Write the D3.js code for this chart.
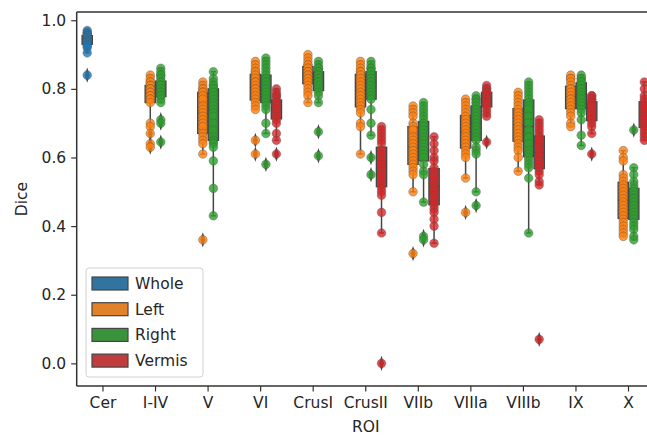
<!DOCTYPE html>
<html><head><meta charset="utf-8">
<script src="https://cdn.jsdelivr.net/npm/d3@7"></script>
<style>body{margin:0;background:#fff;overflow:hidden}svg{display:block}text{font-family:"DejaVu Sans",sans-serif;fill:#262626}</style>
</head><body><svg id="c" width="647" height="437"></svg>
<script>
const categories = ["Cer","I-IV","V","VI","CrusI","CrusII","VIIb","VIIIa","VIIIb","IX","X"];
const hues = ["Whole","Left","Right","Vermis"];
const yTicks = [0.0,0.2,0.4,0.6,0.8,1.0];
const boxColors = ["#3274a1","#e1812c","#3a923a","#c03d3e"];
const pointColors = ["#1f77b4","#ff7f0e","#2ca02c","#d62728"];

const whole = [
  [0.97,0.965,0.96,0.96,0.955,0.955,0.95,0.95,0.945,0.94,0.94,0.935,0.93,0.925,0.92,0.905,0.84],
  null,null,null,null,null,null,null,null,null,null
];
const left = [
  null,
  [0.84,0.83,0.82,0.82,0.81,0.81,0.80,0.80,0.80,0.79,0.79,0.78,0.78,0.77,0.77,0.76,0.70,0.69,0.67,0.64,0.63],
  [0.82,0.81,0.80,0.80,0.79,0.79,0.78,0.77,0.75,0.74,0.73,0.72,0.71,0.70,0.69,0.67,0.66,0.65,0.64,0.61,0.36],
  [0.88,0.87,0.86,0.85,0.85,0.84,0.83,0.82,0.82,0.81,0.80,0.80,0.79,0.78,0.77,0.76,0.75,0.74,0.65,0.61],
  [0.90,0.89,0.88,0.87,0.87,0.86,0.86,0.85,0.85,0.84,0.84,0.83,0.83,0.82,0.81,0.80,0.79,0.78,0.76],
  [0.88,0.87,0.86,0.85,0.85,0.84,0.83,0.82,0.81,0.80,0.79,0.78,0.77,0.76,0.75,0.74,0.73,0.70,0.69,0.61],
  [0.75,0.74,0.73,0.72,0.70,0.69,0.68,0.66,0.65,0.64,0.63,0.62,0.61,0.60,0.59,0.58,0.57,0.56,0.55,0.50,0.32],
  [0.77,0.76,0.75,0.74,0.73,0.72,0.71,0.70,0.69,0.68,0.67,0.66,0.65,0.64,0.63,0.62,0.61,0.60,0.54,0.44],
  [0.79,0.78,0.77,0.76,0.75,0.74,0.73,0.72,0.71,0.70,0.69,0.68,0.67,0.66,0.65,0.64,0.63,0.62,0.60,0.56],
  [0.84,0.83,0.83,0.82,0.81,0.80,0.80,0.79,0.78,0.77,0.77,0.76,0.75,0.74,0.73,0.72,0.70,0.69],
  [0.62,0.60,0.59,0.55,0.54,0.53,0.52,0.51,0.50,0.49,0.48,0.47,0.46,0.45,0.44,0.43,0.42,0.41,0.40,0.39,0.38,0.37]
];
const right = [
  null,
  [0.86,0.85,0.84,0.84,0.83,0.82,0.82,0.81,0.81,0.80,0.80,0.79,0.79,0.78,0.78,0.77,0.76,0.71,0.70,0.645],
  [0.85,0.83,0.82,0.81,0.81,0.80,0.80,0.79,0.78,0.77,0.76,0.75,0.74,0.73,0.72,0.70,0.68,0.66,0.65,0.645,0.64,0.63,0.59,0.51,0.43],
  [0.89,0.88,0.87,0.86,0.85,0.84,0.83,0.82,0.82,0.81,0.80,0.80,0.79,0.78,0.77,0.76,0.75,0.74,0.70,0.67,0.58],
  [0.88,0.87,0.86,0.86,0.85,0.85,0.84,0.84,0.83,0.83,0.82,0.82,0.81,0.80,0.79,0.78,0.76,0.675,0.605],
  [0.88,0.87,0.86,0.86,0.85,0.85,0.84,0.83,0.83,0.82,0.82,0.81,0.80,0.79,0.78,0.77,0.74,0.70,0.665,0.60,0.55],
  [0.76,0.75,0.74,0.73,0.72,0.71,0.70,0.69,0.68,0.67,0.66,0.65,0.64,0.63,0.62,0.61,0.60,0.58,0.56,0.55,0.47,0.37,0.36],
  [0.78,0.77,0.77,0.76,0.76,0.75,0.74,0.73,0.72,0.71,0.70,0.69,0.68,0.67,0.66,0.65,0.63,0.62,0.61,0.50,0.46],
  [0.82,0.81,0.80,0.79,0.78,0.77,0.76,0.75,0.74,0.72,0.70,0.68,0.66,0.64,0.62,0.61,0.60,0.59,0.58,0.57,0.54,0.38],
  [0.84,0.83,0.83,0.82,0.82,0.81,0.80,0.80,0.79,0.78,0.77,0.76,0.75,0.74,0.73,0.71,0.665,0.635],
  [0.68,0.57,0.55,0.53,0.52,0.51,0.50,0.49,0.48,0.48,0.47,0.46,0.45,0.44,0.43,0.42,0.41,0.40,0.39,0.37,0.36]
];
const vermis = [
  null,null,null,
  [0.80,0.79,0.78,0.78,0.77,0.76,0.76,0.75,0.75,0.74,0.74,0.73,0.72,0.71,0.70,0.67,0.65,0.61],
  null,
  [0.69,0.68,0.67,0.66,0.65,0.64,0.62,0.61,0.60,0.59,0.58,0.57,0.56,0.55,0.54,0.53,0.52,0.51,0.50,0.49,0.44,0.38,0.00],
  [0.66,0.64,0.62,0.60,0.59,0.57,0.56,0.55,0.54,0.53,0.52,0.51,0.50,0.49,0.48,0.47,0.46,0.45,0.44,0.42,0.40,0.35],
  [0.81,0.80,0.80,0.79,0.79,0.78,0.78,0.77,0.77,0.76,0.76,0.75,0.74,0.73,0.72,0.645],
  [0.71,0.70,0.69,0.68,0.67,0.66,0.65,0.64,0.63,0.62,0.61,0.60,0.59,0.58,0.57,0.56,0.55,0.53,0.52,0.07],
  [0.78,0.78,0.77,0.77,0.76,0.76,0.75,0.75,0.74,0.73,0.72,0.71,0.70,0.69,0.67,0.61],
  [0.82,0.80,0.78,0.77,0.76,0.75,0.74,0.73,0.72,0.71,0.70,0.69,0.68,0.67,0.66,0.65]
];
const seriesByHue = [whole, left, right, vermis];

const svg = d3.select("#c");
const M = {left: 76.7, right: 654.8, top: 12, bottom: 386};
const x = d3.scaleBand().domain(categories).range([M.left, M.right]).padding(0);
const xh = d3.scaleBand().domain(hues).range([-0.4, 0.4]);
const y = d3.scaleLinear().domain([-0.066, 1.024]).range([M.bottom, M.top]);
const gray = "#454545";
const bw = x.bandwidth();
const hueW = xh.bandwidth() * bw;
const boxW = hueW * 0.98;

function cx(ci, hi) { return x(categories[ci]) + bw / 2 + (xh(hues[hi]) + xh.bandwidth() / 2) * bw; }

// boxes
const gBox = svg.append("g");
const groups = [];
seriesByHue.forEach((ser, hi) => ser.forEach((vals, ci) => { if (vals) groups.push({hi, ci, vals}); }));
groups.forEach(g => {
  const s = g.vals.slice().sort(d3.ascending);
  const q1 = d3.quantile(s, 0.25), med = d3.quantile(s, 0.5), q3 = d3.quantile(s, 0.75);
  const iqr = q3 - q1;
  const lo = d3.min(s.filter(v => v >= q1 - 1.5 * iqr));
  const hi = d3.max(s.filter(v => v <= q3 + 1.5 * iqr));
  const c = cx(g.ci, g.hi);
  const fl = s.filter(v => v < lo || v > hi);
  const gg = gBox.append("g");
  gg.append("line").attr("x1", c).attr("x2", c).attr("y1", y(q1)).attr("y2", y(lo)).attr("stroke", gray).attr("stroke-width", 1.5);
  gg.append("line").attr("x1", c).attr("x2", c).attr("y1", y(q3)).attr("y2", y(hi)).attr("stroke", gray).attr("stroke-width", 1.5);
  [lo, hi].forEach(v => gg.append("line").attr("x1", c - boxW / 4).attr("x2", c + boxW / 4).attr("y1", y(v)).attr("y2", y(v)).attr("stroke", gray).attr("stroke-width", 1.5));
  gg.append("rect").attr("x", c - boxW / 2).attr("width", boxW).attr("y", y(q3)).attr("height", y(q1) - y(q3))
    .attr("fill", boxColors[g.hi]).attr("stroke", gray).attr("stroke-width", 1.3);
  gg.append("line").attr("x1", c - boxW / 2).attr("x2", c + boxW / 2).attr("y1", y(med)).attr("y2", y(med)).attr("stroke", gray).attr("stroke-width", 1.3);
  fl.forEach(v => gg.append("path").attr("d", d3.symbol(d3.symbolDiamond, 40)()).attr("transform", `translate(${c},${y(v)}) scale(0.75,1.3)`).attr("fill", gray));
});

// strip points
const gPts = svg.append("g");
groups.forEach(g => {
  const c = cx(g.ci, g.hi);
  gPts.selectAll(null).data(g.vals).enter().append("circle")
    .attr("cx", c).attr("cy", d => y(d)).attr("r", 4.3)
    .attr("fill", pointColors[g.hi]).attr("fill-opacity", 0.8)
    .attr("stroke", "#555").attr("stroke-opacity", 0.5).attr("stroke-width", 0.8);
});

// axes
const ax = svg.append("g").attr("transform", `translate(0,${M.bottom})`).call(d3.axisBottom(x).tickSize(5.5).tickPadding(5));
const ay = svg.append("g").attr("transform", `translate(${M.left},0)`).call(d3.axisLeft(y).tickValues(yTicks).tickFormat(d3.format(".1f")).tickSize(5.5).tickPadding(5));
[ax, ay].forEach(a => {
  a.select(".domain").remove();
  a.selectAll(".tick line").attr("stroke", "#333").attr("stroke-width", 1.2);
  a.selectAll(".tick text").attr("fill", "#262626").style("font-size", "15.5px").style("font-family", "DejaVu Sans");
});
// spines
svg.append("line").attr("x1", M.left).attr("x2", M.left).attr("y1", M.top).attr("y2", M.bottom).attr("stroke", "#333").attr("stroke-width", 1.5);
svg.append("line").attr("x1", M.left).attr("x2", M.right).attr("y1", M.bottom).attr("y2", M.bottom).attr("stroke", "#333").attr("stroke-width", 1.5);
svg.append("line").attr("x1", M.left).attr("x2", M.right).attr("y1", M.top).attr("y2", M.top).attr("stroke", "#333").attr("stroke-width", 1.5);

svg.append("text").attr("x", (M.left + M.right) / 2).attr("y", 432).attr("text-anchor", "middle").style("font-size", "15.5px").text("ROI");
svg.append("text").attr("transform", `translate(27,${(M.top + M.bottom) / 2}) rotate(-90)`).attr("text-anchor", "middle").style("font-size", "15.5px").text("Dice");

// legend
const lg = svg.append("g").attr("transform", "translate(86,268)");
lg.append("rect").attr("width", 117).attr("height", 109).attr("rx", 3).attr("fill", "#fff").attr("fill-opacity", 0.8).attr("stroke", "#d0d0d0");
hues.forEach((h, i) => {
  const yy = 9 + i * 25.7;
  lg.append("rect").attr("x", 6).attr("y", yy).attr("width", 36).attr("height", 13).attr("fill", boxColors[i]).attr("stroke", gray).attr("stroke-width", 1.2);
  lg.append("text").attr("x", 49).attr("y", yy + 12).style("font-size", "15.5px").text(h);
});
</script></body></html>
